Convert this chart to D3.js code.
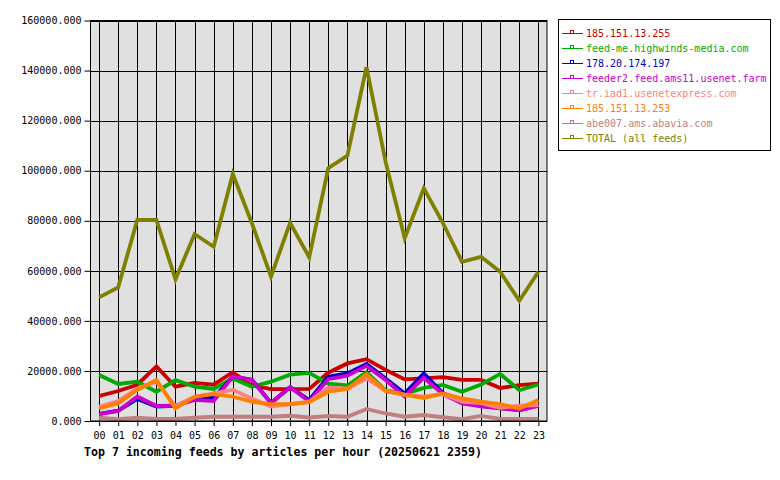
<!DOCTYPE html>
<html><head><meta charset="utf-8">
<script src="https://cdn.jsdelivr.net/npm/d3@7"></script>
<style>body{margin:0;background:#fff}svg{display:block}text{font-family:"DejaVu Sans Mono",monospace}</style>
</head><body><svg id="c" width="780" height="480"></svg>
<script>
const hours = ["00","01","02","03","04","05","06","07","08","09","10","11","12","13","14","15","16","17","18","19","20","21","22","23"];
const yTicks = [0,20000,40000,60000,80000,100000,120000,140000,160000];
const seriesNames = ["185.151.13.255","feed-me.highwinds-media.com","178.20.174.197","feeder2.feed.ams11.usenet.farm","tr.iad1.usenetexpress.com","185.151.13.253","abe007.ams.abavia.com","TOTAL (all feeds)"];
const seriesColors = ["#cc0000","#00aa00","#0000cc","#cc00cc","#ff8080","#ff8000","#c08080","#808000"];
const s_185_151_13_255 = [10000,12000,14500,21800,13700,15200,14500,19500,14200,12700,12700,12800,19300,23000,24700,20400,16600,17000,17500,16400,16400,13200,14300,14900];
const s_feedme = [18400,14800,15700,11700,16300,13700,12800,17000,13700,15700,18500,19200,14900,14200,19500,12200,10800,13200,14400,11700,14600,18800,12300,14600];
const s_178_20_174_197 = [2800,4100,8800,5800,6000,9200,9200,17800,16500,7200,13500,8400,17700,19000,22800,17000,11000,19000,11200,7800,6000,5100,4400,6200];
const s_feeder2 = [2700,4000,9800,6000,6100,8400,8000,17800,16400,7200,13500,7800,16700,18100,22000,16400,9800,17300,10700,7000,5800,5000,4300,6000];
const s_tr_iad1 = [5700,8000,13000,15700,5900,9700,11000,12400,9000,5800,6700,7700,13300,13000,17000,12000,10500,9700,10700,7700,7100,5300,6100,6400];
const s_185_151_13_253 = [5000,7100,12400,16400,5000,9700,10700,9700,7700,6700,6700,7500,11700,12800,18700,12000,10400,9200,11000,9000,7700,6700,5000,8400];
const s_abe007 = [1300,700,1300,800,800,1300,1700,1700,1700,1700,2100,1400,2000,1700,4800,3000,1700,2400,1500,700,2000,800,800,800];
const s_total = [49400,53400,80300,80300,56600,74700,69600,98700,79000,57700,79200,65400,101000,106000,141400,103500,73000,93000,79100,63600,65600,59600,48000,59600];
const seriesValues = [s_185_151_13_255,s_feedme,s_178_20_174_197,s_feeder2,s_tr_iad1,s_185_151_13_253,s_abe007,s_total];
const title = "Top 7 incoming feeds by articles per hour (20250621 2359)";

const svg = d3.select("#c");
const L=90.5, R=547, T=20.5, B=421;
const x = d3.scaleLinear().domain([-0.45, hours.length-1+0.45]).range([L,R]);
const y = d3.scaleLinear().domain([0,160000]).range([B,T]);

svg.append("rect").attr("x",L).attr("y",T).attr("width",R-L).attr("height",B-T).attr("fill","#e0e0e0");
// grid
svg.append("g").selectAll("line").data(hours).join("line")
  .attr("x1",(d,i)=>Math.round(x(i))+0.5).attr("x2",(d,i)=>Math.round(x(i))+0.5)
  .attr("y1",T).attr("y2",B).attr("stroke","#000").attr("stroke-width",1);
svg.append("g").selectAll("line").data(yTicks).join("line")
  .attr("x1",L).attr("x2",R).attr("y1",d=>Math.round(y(d))+0.5).attr("y2",d=>Math.round(y(d))+0.5)
  .attr("stroke","#000").attr("stroke-width",1);

// axes
const ya = svg.append("g").attr("transform",`translate(${L},0)`)
  .call(d3.axisLeft(y).tickValues(yTicks).tickFormat(d3.format(".3f")).tickSize(6).tickSizeOuter(0).tickPadding(3));
ya.select(".domain").remove();
ya.selectAll("text").attr("font-size",10).attr("fill","#000").attr("font-family","DejaVu Sans Mono");
ya.selectAll("line").attr("stroke","#000");
const xa = svg.append("g").attr("transform",`translate(0,${B})`)
  .call(d3.axisBottom(x).tickValues(d3.range(hours.length)).tickFormat(i=>hours[i]).tickSize(5).tickSizeOuter(0).tickPadding(6));
xa.select(".domain").remove();
xa.selectAll("text").attr("font-size",10).attr("fill","#000").attr("font-family","DejaVu Sans Mono");
xa.selectAll("line").attr("stroke","#000");

// lines
const line = d3.line().x((d,i)=>x(i)).y(d=>y(d));
seriesValues.forEach((vals,k)=>{
  svg.append("path").datum(vals).attr("d",line).attr("fill","none")
    .attr("stroke",seriesColors[k]).attr("stroke-width",3.8).attr("stroke-linejoin","miter");
});
svg.append("rect").attr("x",L).attr("y",T).attr("width",R-L).attr("height",B-T).attr("fill","none").attr("stroke","#000");

// legend
const lg = svg.append("g");
lg.append("rect").attr("x",558.5).attr("y",19.5).attr("width",212).attr("height",131).attr("fill","#fff").attr("stroke","#000");
seriesNames.forEach((n,k)=>{
  const yy = 33 + k*15;
  lg.append("line").attr("x1",562).attr("x2",583).attr("y1",yy+0.5).attr("y2",yy+0.5).attr("stroke",seriesColors[k]);
  lg.append("rect").attr("x",570.5).attr("y",yy-2.5).attr("width",3).attr("height",3).attr("fill","none").attr("stroke",seriesColors[k]);
  lg.append("text").attr("x",586).attr("y",yy+4).attr("font-size",10).attr("fill",seriesColors[k]).text(n);
});

svg.append("text").attr("x",84).attr("y",456).attr("font-size",11.6).attr("font-weight","bold").attr("fill","#000").text(title);
</script></body></html>
